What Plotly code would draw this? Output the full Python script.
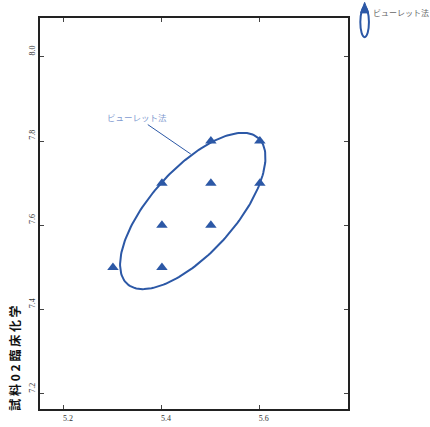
import numpy as np
import plotly.graph_objects as go

# data points
x_vals = [5.3, 5.4, 5.4, 5.4, 5.5, 5.5, 5.5, 5.6, 5.6]
y_vals = [7.5, 7.5, 7.6, 7.7, 7.6, 7.7, 7.8, 7.8, 7.7]
series_name = "ビューレット法"
y_title = "試料02臨床化学"
x_ticks = [5.2, 5.4, 5.6]
y_ticks = [7.2, 7.4, 7.6, 7.8, 8.0]

# ellipse (center and parametric coefficients in data units)
ell_cx, ell_cy = 5.463, 7.634
ell_xc, ell_xs = 0.134, -0.064
ell_yc, ell_ys = 0.173, 0.067

t = np.linspace(0, 2 * np.pi, 200)
ex = ell_cx + ell_xc * np.cos(t) + ell_xs * np.sin(t)
ey = ell_cy + ell_yc * np.cos(t) + ell_ys * np.sin(t)

blue = "#2c58a6"

fig = go.Figure()
fig.add_trace(go.Scatter(x=ex, y=ey, mode="lines", line=dict(color=blue, width=2),
                         showlegend=False, hoverinfo="skip"))
fig.add_trace(go.Scatter(x=x_vals, y=y_vals, mode="markers", name=series_name,
                         marker=dict(symbol="triangle-up", size=10, color=blue),
                         showlegend=False))

fig.add_annotation(x=5.459, y=7.769, xref="x", yref="y", text=series_name,
                   showarrow=True, arrowhead=0, arrowwidth=1, arrowcolor=blue,
                   ax=-54, ay=-37, font=dict(color="#7f9bd0", size=8.5, family="Noto Sans CJK JP"))

fig.add_annotation(x=-0.084, y=0.0, xref="paper", yref="paper", text="<b>" + " ".join(y_title) + "</b>",
                   textangle=-90, showarrow=False, xanchor="center", yanchor="bottom", yshift=-4,
                   font=dict(color="#111", size=12, family="Noto Sans CJK JP"))

# custom legend (ellipse loop with triangle) in paper coordinates
fig.add_shape(type="circle", xref="paper", yref="paper", x0=1.040, x1=1.068, y0=0.951, y1=1.028,
              line=dict(color=blue, width=2))
fig.add_shape(type="path", xref="paper", yref="paper",
              path="M 1.054 1.040 L 1.041 1.013 L 1.067 1.013 Z",
              fillcolor=blue, line=dict(color=blue, width=1))
fig.add_annotation(x=1.076, y=1.013, xref="paper", yref="paper", text=series_name,
                   showarrow=False, xanchor="left", yanchor="middle",
                   font=dict(color="#666", size=8, family="Noto Sans CJK JP"))

axis_common = dict(showline=True, linecolor="#222", linewidth=2, mirror="ticks",
                   ticks="inside", ticklen=4, tickcolor="#444", showgrid=False, zeroline=False,
                   tickfont=dict(size=8, family="Liberation Sans Narrow", color="#333"))
fig.update_xaxes(range=[5.151, 5.78], tickvals=x_ticks, ticktext=[f"{v:.1f}" for v in x_ticks],
                 ticklabelshift=4, **axis_common)
fig.update_yaxes(range=[7.164, 8.092], tickvals=y_ticks, ticktext=[f"{v:.1f}" for v in y_ticks],
                 tickangle=-90, ticklabelshift=-5, **axis_common)

fig.update_layout(width=430, height=427, margin=dict(l=40, r=82, t=18, b=18, autoexpand=False),
                  plot_bgcolor="white", paper_bgcolor="white", showlegend=False)
fig.write_html("out.html")
